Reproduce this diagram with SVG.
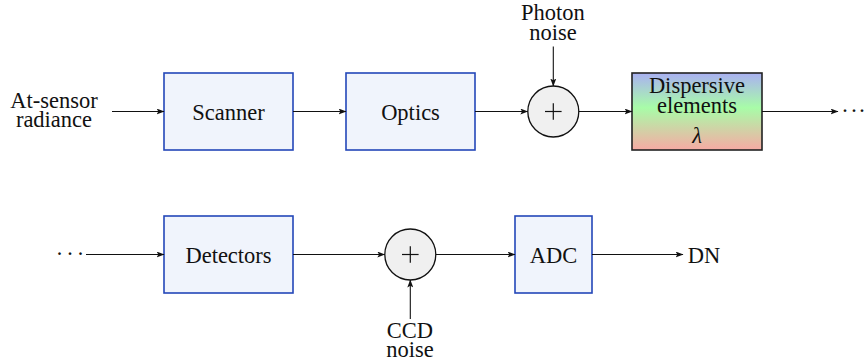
<svg xmlns="http://www.w3.org/2000/svg" width="865" height="364" viewBox="0 0 865 364" font-family="'Liberation Serif', 'DejaVu Serif', serif">
<style>
text{font-family:'Liberation Serif','DejaVu Serif',serif;font-size:22.5px;fill:#111;text-anchor:middle}
.box{fill:#f0f4fc;stroke:#2347b8;stroke-width:1.6}
.sum{fill:#f0f0f0;stroke:#111;stroke-width:1.3}
.plus{stroke:#111;stroke-width:1.2}
.conn line{stroke:#111;stroke-width:1.1;marker-end:url(#ah)}
</style>
<defs>
<marker id="ah" markerWidth="8" markerHeight="6" refX="7.5" refY="3" orient="auto" markerUnits="userSpaceOnUse">
<path d="M0,0 L8,3 L0,6 L1.8,3 Z" fill="#111"/>
</marker>
<linearGradient id="disp" x1="0" y1="0" x2="0" y2="1">
<stop offset="0" stop-color="#aab0f2"/>
<stop offset="0.45" stop-color="#a8fca8"/>
<stop offset="1" stop-color="#f7aaa4"/>
</linearGradient>
</defs>
<g id="input"><text x="54" y="107.5">At-sensor<tspan x="54" dy="19.5">radiance</tspan></text></g>
<g id="scanner"><rect class="box" x="164" y="73" width="129" height="77"/><text x="228.5" y="119.5">Scanner</text></g>
<g id="optics"><rect class="box" x="346" y="73" width="129" height="77"/><text x="410.5" y="119.5">Optics</text></g>
<g id="sum1"><circle class="sum" cx="553.3" cy="111.5" r="25.5"/><line class="plus" x1="545" y1="111.5" x2="561.6" y2="111.5"/><line class="plus" x1="553.3" y1="103.2" x2="553.3" y2="119.8"/></g>
<g id="photon"><text x="553" y="20">Photon<tspan x="553" dy="19.5">noise</tspan></text></g>
<g id="dispersive"><rect x="632" y="73" width="130" height="77" fill="url(#disp)" stroke="#222" stroke-width="1.6"/><text x="697" y="93">Dispersive<tspan x="697" dy="20">elements</tspan></text><text x="697" y="142.5" font-style="italic">λ</text></g>
<g id="dots1"><text x="845 854 862" y="118">···</text></g>
<g id="dots2"><text x="59.5 70 80.5" y="261">···</text></g>
<g id="detectors"><rect class="box" x="164" y="216" width="129" height="77"/><text x="228.5" y="262.5">Detectors</text></g>
<g id="sum2"><circle class="sum" cx="410.3" cy="254.5" r="25.5"/><line class="plus" x1="402" y1="254.5" x2="418.6" y2="254.5"/><line class="plus" x1="410.3" y1="246.2" x2="410.3" y2="262.8"/></g>
<g id="ccd"><text x="410" y="337.5">CCD<tspan x="410" dy="19.5">noise</tspan></text></g>
<g id="adc"><rect class="box" x="515" y="216" width="77" height="77"/><text x="553.5" y="262.5">ADC</text></g>
<g id="dn"><text x="704" y="262.5">DN</text></g>
<g class="conn" id="connectors">
<line x1="112" y1="111.5" x2="164" y2="111.5"/>
<line x1="293" y1="111.5" x2="346" y2="111.5"/>
<line x1="475" y1="111.5" x2="527.8" y2="111.5"/>
<line x1="553.3" y1="46.5" x2="553.3" y2="86"/>
<line x1="578.8" y1="111.5" x2="632" y2="111.5"/>
<line x1="762" y1="111.5" x2="838" y2="111.5"/>
<line x1="86" y1="254.5" x2="164" y2="254.5"/>
<line x1="293" y1="254.5" x2="384.8" y2="254.5"/>
<line x1="410.3" y1="319" x2="410.3" y2="280"/>
<line x1="435.8" y1="254.5" x2="515" y2="254.5"/>
<line x1="592" y1="254.5" x2="683" y2="254.5"/>
</g>
</svg>
